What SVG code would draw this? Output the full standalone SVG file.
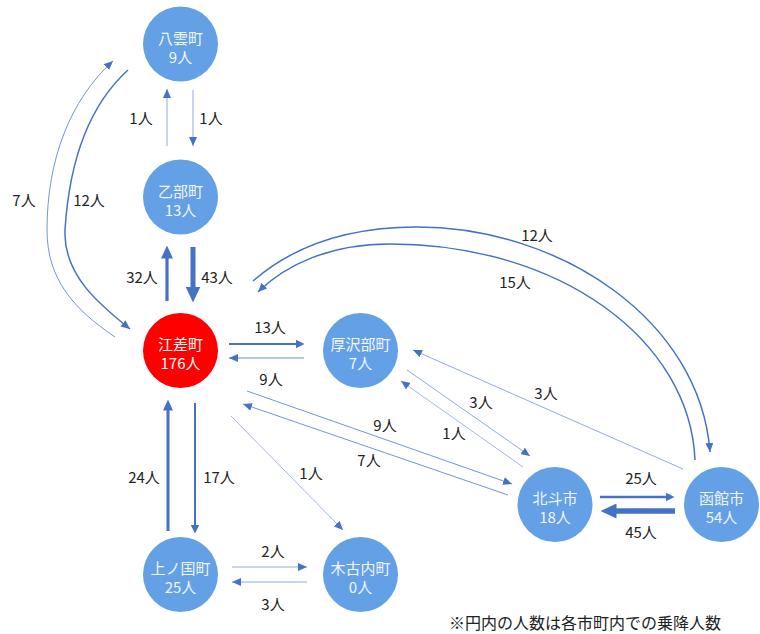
<svg xmlns="http://www.w3.org/2000/svg" width="760" height="634" viewBox="0 0 760 634">
<defs>
<style>
.n{fill:#63A0E6}
.r{fill:#FF0000}
.nt{font-family:"Noto Sans CJK JP","Noto Sans",sans-serif;font-size:15px;fill:#F2F6FC;text-anchor:middle}
.lb{font-family:"Noto Sans CJK JP","Noto Sans",sans-serif;font-size:15px;fill:#222;text-anchor:middle}
.e{fill:none;stroke:#4472C4}
.note{font-family:"Noto Sans CJK JP","Noto Sans",sans-serif;font-size:16px;fill:#222}
</style>
<marker id="ah" viewBox="0 0 9 8" refX="9" refY="4" markerWidth="9" markerHeight="8" orient="auto" markerUnits="userSpaceOnUse"><path d="M0,0 L9,4 L0,8 z" fill="#4472C4"/></marker>
<marker id="am" viewBox="0 0 9 9" refX="0.5" refY="4.5" markerWidth="9" markerHeight="9" orient="auto" markerUnits="userSpaceOnUse"><path d="M0,0 L9,4.5 L0,9 z" fill="#4472C4"/></marker>
<marker id="a3" viewBox="0 0 11 10" refX="0.5" refY="5" markerWidth="11" markerHeight="10" orient="auto" markerUnits="userSpaceOnUse"><path d="M0,0 L11,5 L0,10 z" fill="#4472C4"/></marker>
<marker id="a32" viewBox="0 0 13 12" refX="0.5" refY="6" markerWidth="13" markerHeight="12" orient="auto" markerUnits="userSpaceOnUse"><path d="M0,0 L13,6 L0,12 z" fill="#4472C4"/></marker>
<marker id="a43" viewBox="0 0 16 15" refX="0.5" refY="7.5" markerWidth="16" markerHeight="15" orient="auto" markerUnits="userSpaceOnUse"><path d="M0,0 L16,7.5 L0,15 z" fill="#4472C4"/></marker>
</defs>
<rect width="760" height="634" fill="#FFFFFF"/>
<g id="connectors">
<path class="e" stroke-width="0.6" d="M193,90 V146" marker-end="url(#ah)"/>
<path class="e" stroke-width="0.6" d="M167,146 V89" marker-end="url(#ah)"/>
<path class="e" stroke-width="5" d="M193,247 V287" marker-end="url(#a43)"/>
<path class="e" stroke-width="3.2" d="M167,301 V258" marker-end="url(#a32)"/>
<path class="e" stroke-width="1.5" d="M128,70 C95,100 70,150 65,230 C63,275 100,305 130,329" marker-end="url(#ah)"/>
<path class="e" stroke-width="0.75" d="M115,337 C75,310 47,280 47,230 C47,160 70,100 113,61" marker-end="url(#ah)"/>
<path class="e" stroke-width="1.5" d="M253,281 C300,240 360,227 417,227 C560,227 700,320 710,452" marker-end="url(#ah)"/>
<path class="e" stroke-width="1.5" d="M695,460 C690,340 560,244 390,244 C330,244 285,265 258,292" marker-end="url(#ah)"/>
<path class="e" stroke-width="2" d="M229,344 H296" marker-end="url(#am)"/>
<path class="e" stroke-width="0.8" d="M304,358 H229" marker-end="url(#ah)"/>
<path class="e" stroke-width="0.75" d="M247,391 L512,484" marker-end="url(#ah)"/>
<path class="e" stroke-width="0.75" d="M508,495 L243,404" marker-end="url(#ah)"/>
<path class="e" stroke-width="2" d="M195,403 V525" marker-end="url(#am)"/>
<path class="e" stroke-width="3" d="M168,531 V410" marker-end="url(#a3)"/>
<path class="e" stroke-width="0.5" d="M231,416 L343,530" marker-end="url(#ah)"/>
<path class="e" stroke-width="0.6" d="M232,567 H307" marker-end="url(#ah)"/>
<path class="e" stroke-width="0.6" d="M307,582 H232" marker-end="url(#ah)"/>
<path class="e" stroke-width="0.6" d="M407,370 L530,456" marker-end="url(#ah)"/>
<path class="e" stroke-width="0.5" d="M523,467 L401,381" marker-end="url(#ah)"/>
<path class="e" stroke-width="0.6" d="M683,469 L413,350" marker-end="url(#ah)"/>
<path class="e" stroke-width="2.5" d="M600,497 H666" marker-end="url(#am)"/>
<path class="e" stroke-width="5.5" d="M675,511 H616" marker-end="url(#a43)"/>
</g>
<g id="labels">
<text class="lb" x="141" y="123.5">1人</text>
<text class="lb" x="211" y="123.5">1人</text>
<text class="lb" x="24" y="205.5">7人</text>
<text class="lb" x="89" y="205.5">12人</text>
<text class="lb" x="142" y="282.5">32人</text>
<text class="lb" x="217" y="282.5">43人</text>
<text class="lb" x="270" y="332.5">13人</text>
<text class="lb" x="271" y="384.5">9人</text>
<text class="lb" x="537" y="240.5">12人</text>
<text class="lb" x="515" y="287.5">15人</text>
<text class="lb" x="481" y="407.5">3人</text>
<text class="lb" x="546" y="398.5">3人</text>
<text class="lb" x="385" y="430.5">9人</text>
<text class="lb" x="454" y="438.5">1人</text>
<text class="lb" x="369" y="465.5">7人</text>
<text class="lb" x="311" y="478.5">1人</text>
<text class="lb" x="144" y="482.5">24人</text>
<text class="lb" x="219" y="482.5">17人</text>
<text class="lb" x="641" y="483.5">25人</text>
<text class="lb" x="641" y="537.5">45人</text>
<text class="lb" x="273" y="556.5">2人</text>
<text class="lb" x="273" y="609.5">3人</text>
</g>
<g id="node-yakumo"><circle class="n" cx="180.5" cy="44" r="37.5"/><text class="nt" x="180.5" y="43.5">八雲町</text><text class="nt" x="180.5" y="62.5">9人</text></g>
<g id="node-otobe"><circle class="n" cx="180.5" cy="197" r="37.5"/><text class="nt" x="180.5" y="196.5">乙部町</text><text class="nt" x="180.5" y="215.5">13人</text></g>
<g id="node-esashi"><circle class="r" cx="180.5" cy="350.5" r="37.5"/><text class="nt" x="180.5" y="350" style="fill:#FFFFFF">江差町</text><text class="nt" x="180.5" y="369" style="fill:#FFFFFF">176人</text></g>
<g id="node-assabu"><circle class="n" cx="360.5" cy="350.5" r="37.5"/><text class="nt" x="360.5" y="350">厚沢部町</text><text class="nt" x="360.5" y="369">7人</text></g>
<g id="node-kaminokuni"><circle class="n" cx="180.5" cy="574.5" r="37.5"/><text class="nt" x="180.5" y="574">上ノ国町</text><text class="nt" x="180.5" y="593">25人</text></g>
<g id="node-kikonai"><circle class="n" cx="360.5" cy="574.5" r="37.5"/><text class="nt" x="360.5" y="574">木古内町</text><text class="nt" x="360.5" y="593">0人</text></g>
<g id="node-hokuto"><circle class="n" cx="555" cy="504.5" r="37.5"/><text class="nt" x="555" y="504">北斗市</text><text class="nt" x="555" y="523">18人</text></g>
<g id="node-hakodate"><circle class="n" cx="721.5" cy="504.5" r="37.5"/><text class="nt" x="721.5" y="504">函館市</text><text class="nt" x="721.5" y="523">54人</text></g>
<text class="note" x="449" y="628.5">※円内の人数は各市町内での乗降人数</text>
</svg>
